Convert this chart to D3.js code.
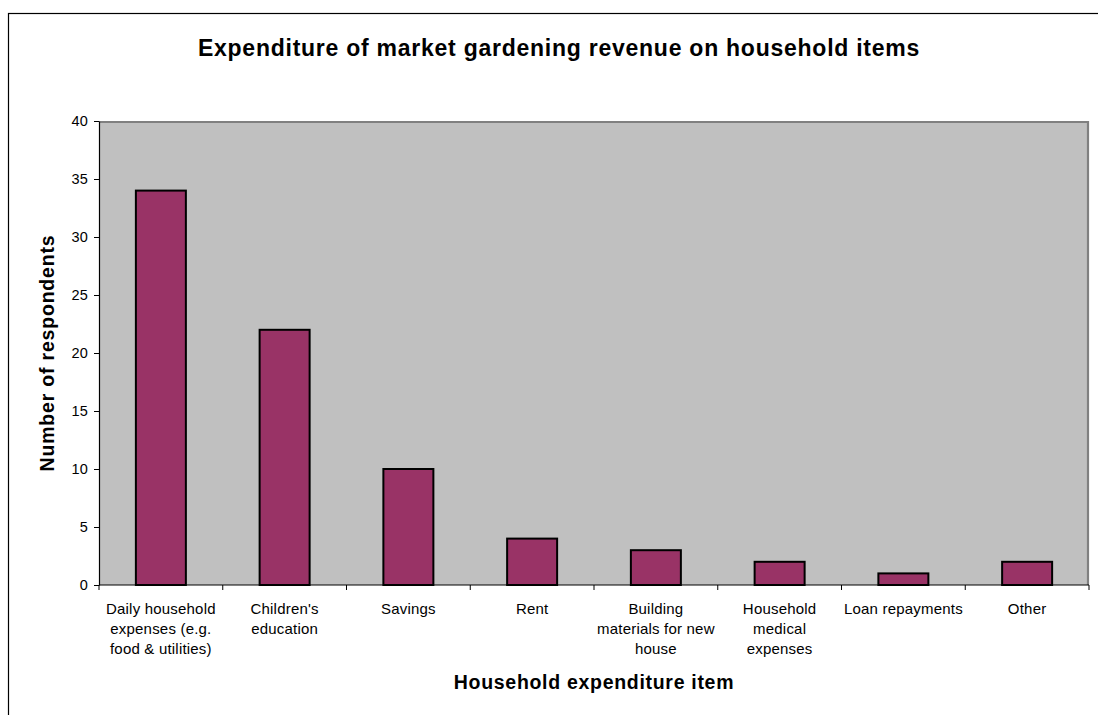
<!DOCTYPE html>
<html>
<head>
<meta charset="utf-8">
<script src="https://cdn.jsdelivr.net/npm/d3@7"></script>
<style>
  html, body { margin: 0; padding: 0; background: #fff; }
  svg { display: block; font-family: "Liberation Sans", Arial, sans-serif; }
</style>
</head>
<body>
<svg id="chart" width="1098" height="715"></svg>
<script>
// Expenditure categories (line-broken as printed under the axis)
const categories = [
  "Daily household expenses (e.g. food & utilities)",
  "Children's education",
  "Savings",
  "Rent",
  "Building materials for new house",
  "Household medical expenses",
  "Loan repayments",
  "Other"
];
const categoryLines = [
  ["Daily household", "expenses (e.g.", "food & utilities)"],
  ["Children's", "education"],
  ["Savings"],
  ["Rent"],
  ["Building", "materials for new", "house"],
  ["Household", "medical", "expenses"],
  ["Loan repayments"],
  ["Other"]
];
// Number of respondents per category
const respondents = [34, 22, 10, 4, 3, 2, 1, 2];
const yTicks = [0, 5, 10, 15, 20, 25, 30, 35, 40];

const titleText = "Expenditure of market gardening revenue on household items";
const xTitle = "Household expenditure item";
const yTitle = "Number of respondents";

const svg = d3.select("#chart");
const plot = { left: 99, top: 121, right: 1089, bottom: 585 };

// outer chart frame (runs off the right and bottom edges)
svg.append("rect")
  .attr("x", 8.5).attr("y", 13.5)
  .attr("width", 1110).attr("height", 720)
  .attr("fill", "#fff").attr("stroke", "#000").attr("stroke-width", 1.2);

const x = d3.scaleBand()
  .domain(categories)
  .range([plot.left, plot.right])
  .paddingInner(0.596)
  .paddingOuter(0.298);

const y = d3.scaleLinear()
  .domain([0, 40])
  .range([plot.bottom, plot.top]);

// plot area background
svg.append("rect")
  .attr("x", plot.left).attr("y", plot.top)
  .attr("width", plot.right - plot.left).attr("height", plot.bottom - plot.top)
  .attr("fill", "#C0C0C0");

// grey frame on top and right of plot area
svg.append("path")
  .attr("d", `M${plot.left},${plot.top + 1} H${plot.right - 1} V${plot.bottom}`)
  .attr("fill", "none").attr("stroke", "#808080").attr("stroke-width", 2.2);

// bars
svg.append("g").selectAll("rect")
  .data(respondents)
  .join("rect")
  .attr("x", (d, i) => x(categories[i]))
  .attr("y", d => y(d))
  .attr("width", x.bandwidth())
  .attr("height", d => y(0) - y(d))
  .attr("fill", "#993366")
  .attr("stroke", "#000")
  .attr("stroke-width", 2);

// y axis
const yAxis = svg.append("g")
  .attr("transform", `translate(${plot.left},0)`)
  .call(d3.axisLeft(y).tickValues(yTicks).tickSize(5).tickPadding(6).tickSizeOuter(0));
yAxis.select(".domain").attr("stroke", "#000").attr("stroke-width", 1.2);
yAxis.selectAll(".tick line").attr("stroke", "#000");
yAxis.selectAll(".tick text")
  .attr("font-size", 14.5).attr("letter-spacing", 0.2).attr("fill", "#000")
  .attr("font-family", "Liberation Sans, Arial, sans-serif");

// x axis: ticks at band boundaries
const xAxis = svg.append("g")
  .attr("transform", `translate(0,${plot.bottom})`);
xAxis.append("line")
  .attr("x1", plot.left).attr("x2", plot.right)
  .attr("stroke", "#000").attr("stroke-width", 1.2);
const boundaries = d3.range(categories.length + 1).map(i => plot.left + i * x.step());
xAxis.selectAll("line.tk")
  .data(boundaries)
  .join("line")
  .attr("class", "tk")
  .attr("x1", d => d).attr("x2", d => d)
  .attr("y1", 0).attr("y2", 5)
  .attr("stroke", "#000");

// category labels
const labels = svg.append("g");
categoryLines.forEach((lines, i) => {
  const cx = x(categories[i]) + x.bandwidth() / 2;
  const t = labels.append("text")
    .attr("text-anchor", "middle")
    .attr("font-size", 15)
    .attr("letter-spacing", 0.2)
    .attr("fill", "#000");
  lines.forEach((ln, j) => {
    t.append("tspan").attr("x", cx).attr("y", plot.bottom + 28.5 + j * 20).text(ln);
  });
});

// chart title
svg.append("text")
  .attr("x", 559).attr("y", 56)
  .attr("text-anchor", "middle")
  .attr("font-size", 23).attr("font-weight", "bold")
  .attr("letter-spacing", 0.75)
  .text(titleText);

// axis titles
svg.append("text")
  .attr("x", (plot.left + plot.right) / 2).attr("y", 689)
  .attr("text-anchor", "middle")
  .attr("font-size", 19.5).attr("font-weight", "bold")
  .attr("letter-spacing", 0.7)
  .text(xTitle);

svg.append("text")
  .attr("transform", `translate(54,${(plot.top + plot.bottom) / 2}) rotate(-90)`)
  .attr("text-anchor", "middle")
  .attr("font-size", 19.5).attr("font-weight", "bold")
  .attr("letter-spacing", 0.8)
  .text(yTitle);
</script>
</body>
</html>
